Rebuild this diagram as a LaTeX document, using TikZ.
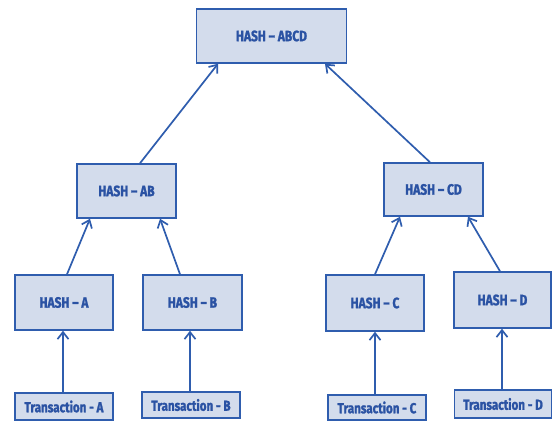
\documentclass[tikz,border=0pt]{standalone}
\usepackage{fontspec}
\setmainfont{Fira Sans}[FakeStretch=0.8]
\usetikzlibrary{arrows.meta,calc}
\definecolor{boxfill}{HTML}{D3DCEC}
\definecolor{boxline}{HTML}{2F5DAE}
\definecolor{boxtext}{HTML}{2A52A3}
\newfontfamily\boxfont{Fira Sans}[FakeStretch=0.8, UprightFont=* Bold, FakeBold=1.4]
\tikzset{
  hbox/.style={draw=boxline, line width=1.5pt, fill=boxfill, rectangle, inner sep=0pt,
    text=boxtext, font=\fontsize{15}{17}\selectfont\boxfont},
  tbox/.style={hbox, font=\fontsize{14.5}{16}\selectfont\boxfont},
  arr/.style={draw=boxline, line width=1.7pt, -{Straight Barb[length=7pt,width=11pt,line width=1.7pt]}}
}
\begin{document}
\begin{tikzpicture}[x=1pt,y=-1pt]
\useasboundingbox[fill=white] (0,0) rectangle (552,423);
\node[hbox, minimum width=150pt, minimum height=54pt] (ABCD) at (271.5,36) {HASH – ABCD};
\node[hbox, minimum width=99pt, minimum height=54pt] (AB) at (126.5,191) {HASH – AB};
\node[hbox, minimum width=99pt, minimum height=53pt] (CD) at (433.5,189.5) {HASH – CD};
\node[hbox, minimum width=98pt, minimum height=55pt] (A) at (64,302.5) {HASH – A};
\node[hbox, minimum width=99pt, minimum height=55pt] (B) at (192.5,302.5) {HASH – B};
\node[hbox, minimum width=98pt, minimum height=56pt] (C) at (375,303) {HASH – C};
\node[hbox, minimum width=97pt, minimum height=56pt] (D) at (502.5,300) {HASH – D};
\node[tbox, minimum width=98pt, minimum height=27pt] (TA) at (64,406.5) {Transaction - A};
\node[tbox, minimum width=98pt, minimum height=26pt] (TB) at (191,405) {Transaction - B};
\node[tbox, minimum width=98pt, minimum height=25pt] (TC) at (377,407.5) {Transaction - C};
\node[tbox, minimum width=97pt, minimum height=28pt] (TD) at (503,404) {Transaction - D};
\draw[arr] ([xshift=3pt]A.north) -- ([xshift=-36.5pt]AB.south);
\draw[arr] ([xshift=-12.5pt]B.north) -- ([xshift=33.5pt]AB.south);
\draw[arr] ([xshift=13.5pt]AB.north) -- ([xshift=-53.5pt]ABCD.south);
\draw[arr] ([xshift=-3.5pt]CD.north) -- ([xshift=53.5pt]ABCD.south);
\draw[arr] (C.north) -- ([xshift=-33.5pt]CD.south);
\draw[arr] ([xshift=-2.5pt]D.north) -- ([xshift=34.5pt]CD.south);
\draw[arr] (TA.north -| 63,0) -- (A.south -| 63,0);
\draw[arr] (TB.north -| 190,0) -- (B.south -| 190,0);
\draw[arr] (TC.north -| 375,0) -- (C.south -| 375,0);
\draw[arr] (TD.north -| 502,0) -- (D.south -| 502,0);
\end{tikzpicture}
\end{document}
